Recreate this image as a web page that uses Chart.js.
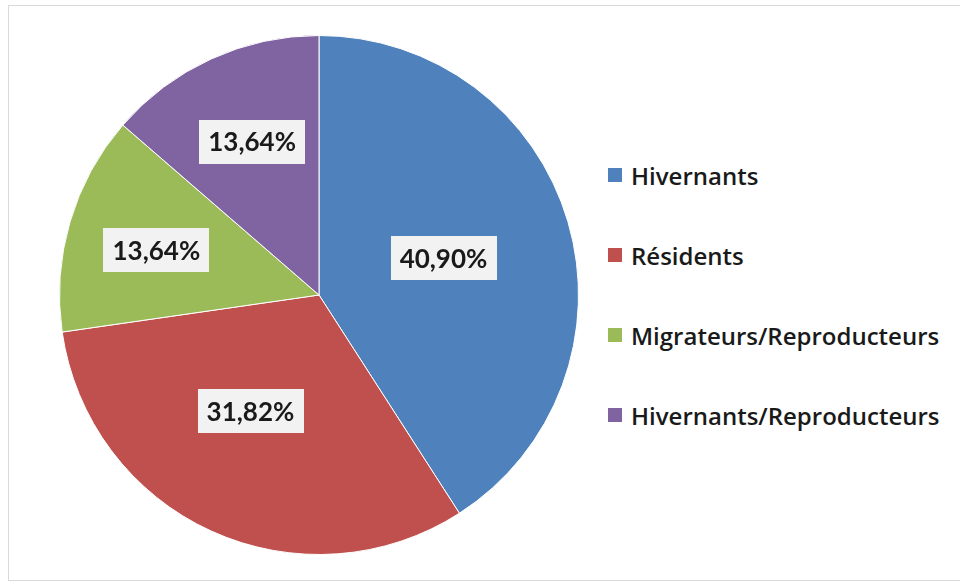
<!DOCTYPE html>
<html>
<head>
<meta charset="utf-8">
<script src="https://cdn.jsdelivr.net/npm/chart.js@4/dist/chart.umd.min.js"></script>
<style>
  html, body { margin: 0; padding: 0; background: #fff; width: 960px; height: 583px; overflow: hidden; }
  .frame { position: absolute; left: 8px; top: 5px; width: 1000px; height: 576px; box-sizing: border-box; border: 1px solid #d9d9d9; }
  #pie { position: absolute; left: 0; top: 0; }
  #legend { position: absolute; left: 608px; top: 135px; font-family: "Open Sans", Lato, sans-serif; font-weight: 600; font-size: 24px; color: #1a1a1a; }
  #legend .row { height: 80px; display: flex; align-items: center; white-space: nowrap; }
  #legend .box { width: 14px; height: 14px; margin-right: 9px; }
</style>
</head>
<body>
<div class="frame"></div>
<canvas id="pie" width="600" height="583"></canvas>
<div id="legend"></div>
<script>
const categories = ['Hivernants', 'Résidents', 'Migrateurs/Reproducteurs', 'Hivernants/Reproducteurs'];
const shares = [40.90, 31.82, 13.64, 13.64];
const valueLabels = ['40,90%', '31,82%', '13,64%', '13,64%'];
const sliceColors = ['#4F81BD', '#C0504D', '#9BBB59', '#8064A2'];

// where each value box sits: fraction of the radius, and a small angle nudge (degrees)
const labelPlace = [
  { r: 0.50, nudge: 0 },
  { r: 0.52, nudge: 6 },
  { r: 0.65, nudge: -1 },
  { r: 0.645, nudge: 1 }
];

const boxLabels = {
  id: 'boxLabels',
  afterDatasetsDraw(chart) {
    const ctx = chart.ctx;
    const arcs = chart.getDatasetMeta(0).data;
    ctx.save();
    ctx.font = 'bold 26px Lato, "Open Sans", sans-serif';
    ctx.textAlign = 'center';
    ctx.textBaseline = 'middle';
    arcs.forEach((arc, i) => {
      const p = arc.getProps(['x', 'y', 'startAngle', 'endAngle', 'outerRadius'], true);
      const a = (p.startAngle + p.endAngle) / 2 + labelPlace[i].nudge * Math.PI / 180;
      const d = p.outerRadius * labelPlace[i].r;
      const cx = p.x + Math.cos(a) * d;
      const cy = p.y + Math.sin(a) * d;
      const txt = valueLabels[i];
      const w = ctx.measureText(txt).width + 18;
      const h = 44;
      ctx.fillStyle = '#f2f2f2';
      ctx.fillRect(Math.round(cx - w / 2), Math.round(cy - h / 2), Math.round(w), h);
      ctx.fillStyle = '#1a1a1a';
      ctx.fillText(txt, cx, cy + 1);
    });
    ctx.restore();
  }
};

const chart = new Chart(document.getElementById('pie'), {
  type: 'pie',
  data: {
    labels: categories,
    datasets: [{
      data: shares,
      backgroundColor: sliceColors,
      borderColor: '#ffffff',
      borderWidth: 1
    }]
  },
  options: {
    responsive: false,
    animation: false,
    layout: { padding: { left: 59, top: 35, right: 21, bottom: 28 } },
    plugins: {
      legend: { display: false },
      tooltip: { enabled: false }
    }
  },
  plugins: [boxLabels]
});

// html legend built from the chart data
const legendEl = document.getElementById('legend');
chart.data.labels.forEach((name, i) => {
  const row = document.createElement('div');
  row.className = 'row';
  const sw = document.createElement('span');
  sw.className = 'box';
  sw.style.background = chart.data.datasets[0].backgroundColor[i];
  const t = document.createElement('span');
  t.textContent = name;
  row.appendChild(sw);
  row.appendChild(t);
  legendEl.appendChild(row);
});
</script>
</body>
</html>
